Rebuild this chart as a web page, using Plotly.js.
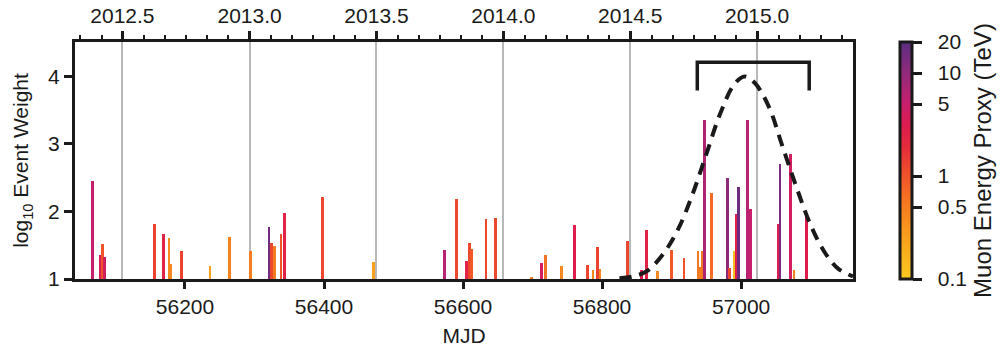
<!DOCTYPE html>
<html>
<head>
<meta charset="utf-8">
<script src="https://cdn.plot.ly/plotly-3.0.1.min.js"></script>
<style>html,body{margin:0;padding:0;background:#fff;}#chart{width:1000px;height:354px;}</style>
</head>
<body>
<div id="chart"></div>
<script>
// Event times (MJD), log10 event weight, muon energy proxy (TeV)
const eventMJD = [56067,56078,56081,56084,56156,56169,56177,56179,56195,56236,56264,
  56294,56321,56324,56329,56338,56343,56398,56471,56573,56591,56605,56609,56612,56633,56647,
  56698,56713,56719,56742,56760,56779,56787,56794,56797,56837,56857,56864,56880,56900,56918,
  56938,56941,56945,56947,56957,56958,56980,56983,56990,56993,56996,57009,57013,57053,57056,
  57071,57076,57094];
const eventLogWeight = [2.45,1.35,1.52,1.33,1.81,1.66,1.61,1.22,1.41,1.20,1.62,
  1.41,1.77,1.53,1.49,1.67,1.98,2.21,1.25,1.43,2.19,1.27,1.53,1.44,1.89,1.90,
  1.03,1.24,1.36,1.20,1.80,1.21,1.14,1.47,1.15,1.57,1.14,1.72,1.12,1.43,1.31,
  1.42,1.18,1.42,3.35,2.27,1.06,2.49,1.16,1.42,1.97,2.36,3.36,2.03,1.82,2.70,
  2.85,1.13,1.98];
const eventEnergyTeV = [5,3.5,1.0,4,1.3,2.5,0.4,0.4,1.3,0.25,0.45,
  0.5,15,1.2,0.5,1.0,2.5,1.2,0.25,6,1.2,2.5,1.2,0.9,1.2,1.2,
  0.5,4,0.6,0.4,3,1.2,0.4,1.3,0.4,1.2,3,2.5,0.4,0.9,1.0,
  0.55,0.5,0.55,7,0.7,0.5,11,1.2,0.13,3,16,6,5,3,13,
  4,0.5,3];

// Dashed time-window curve
const curveMJD = [56825,56845,56865,56890,56910,56930,56950,56970,56990,57005,57020,57040,57060,57080,57100,57120,57140,57161];
const curveLogWeight = [1.01,1.04,1.12,1.40,1.75,2.25,2.85,3.45,3.88,4.00,3.90,3.55,2.95,2.35,1.80,1.40,1.15,1.04];

// Bracket marking the flare window
const bracketMJD = [56937,56937,57098,57098];
const bracketLogWeight = [3.79,4.21,4.21,3.79];

// Bottom axis ticks
const mjdTicks = [56200,56400,56600,56800,57000];
const mjdTickText = ['56200','56400','56600','56800','57000'];

// Top axis (calendar year) ticks
const yearTickMJD = [56110,56293,56475.5,56658,56840.5,57023];
const yearTickText = ['2012.5','2013.0','2013.5','2014.0','2014.5','2015.0'];

// Colorbar ticks
const cbTickValues = [0.1,0.5,1,5,10,20];
const cbTickText = ['0.1','0.5','1','5','10','20'];

const colorscale = [
  [0,'#fbc820'],[0.15,'#f9a61c'],[0.304,'#f57d20'],[0.435,'#f0532a'],
  [0.56,'#e52a3a'],[0.65,'#dc1c50'],[0.74,'#c61f6c'],[0.87,'#922a7b'],[1,'#5a2d82']
];

const fam = 'Liberation Sans, Arial, sans-serif';
const font = {family:fam, size:21, color:'#1a1a1a'};
const xRange = [56041.8, 57161];

const bars = {
  type:'bar',
  x: eventMJD,
  y: eventLogWeight.map(v => v - 1),
  base: 1,
  width: 4,
  marker: {
    color: eventEnergyTeV.map(e => Math.log10(e)),
    colorscale: colorscale,
    cmin: -1, cmax: Math.log10(20),
    showscale: true,
    line: {width:0},
    colorbar: {
      x: 1.06, xanchor:'left', y:0.5, yanchor:'middle', len:1, lenmode:'fraction',
      thickness: 12, xpad:0, ypad:0,
      outlinewidth: 3, outlinecolor:'#1a1a1a',
      tickmode:'array', tickvals: cbTickValues.map(v=>Math.log10(v)),
      ticktext: cbTickText.map(t => '\u00a0\u00a0' + t),
      ticks:'outside', ticklen:9, tickwidth:3, tickcolor:'#1a1a1a',
      tickfont: font,
      title: {text:'Muon Energy Proxy (TeV)', side:'right', font: {family:fam, size:24, color:'#1a1a1a'}}
    }
  },
  hoverinfo:'skip',
  showlegend:false
};

const curve = {
  type:'scatter', mode:'lines',
  x: curveMJD, y: curveLogWeight,
  line: {color:'#1a1a1a', width:4, dash:'12px,8px', shape:'spline'},
  showlegend:false, hoverinfo:'skip'
};

const bracket = {
  type:'scatter', mode:'lines',
  x: bracketMJD, y: bracketLogWeight,
  line: {color:'#1a1a1a', width:3.5},
  showlegend:false, hoverinfo:'skip'
};

const topDummy = {
  type:'scatter', mode:'markers', x:[xRange[0]], y:[1], xaxis:'x2',
  marker:{opacity:0}, showlegend:false, hoverinfo:'skip'
};

const layout = {
  width:1000, height:354,
  margin:{l:75, r:147, t:42, b:75, autoexpand:false},
  paper_bgcolor:'#fff', plot_bgcolor:'#fff',
  font: font,
  bargap:0,
  xaxis: {
    range: xRange, showgrid:false, zeroline:false,
    showline:true, linewidth:3, linecolor:'#1a1a1a',
    tickmode:'array', tickvals: mjdTicks, ticktext: mjdTickText,
    ticks:'outside', ticklen:7, tickwidth:3, tickcolor:'#1a1a1a',
    tickfont: font,
    title:{text:'MJD', font: font, standoff:12}
  },
  xaxis2: {
    overlaying:'x', side:'top', range: xRange,
    showline:true, linewidth:3, linecolor:'#1a1a1a', zeroline:false,
    tickmode:'array', tickvals: yearTickMJD, ticktext: yearTickText,
    ticks:'outside', ticklen:8, tickwidth:3, tickcolor:'#1a1a1a',
    showgrid:true, gridcolor:'#b8b8b8', gridwidth:2,
    minor:{tick0:56293, dtick:365.25/12, ticks:'outside', ticklen:4, tickwidth:2, tickcolor:'#1a1a1a', showgrid:false},
    tickfont: font
  },
  yaxis: {
    range:[1,4.51], showgrid:false, zeroline:false,
    showline:true, mirror:true, linewidth:3, linecolor:'#1a1a1a',
    tickmode:'array', tickvals:[1,2,3,4],
    ticks:'outside', ticklen:8, tickwidth:3, tickcolor:'#1a1a1a',
    tickfont: font,
    title:{text:'log<sub>10</sub> Event Weight', font: font, standoff:14}
  }
};

Plotly.newPlot('chart', [topDummy, bars, curve, bracket], layout, {staticPlot:true});
</script>
</body>
</html>
